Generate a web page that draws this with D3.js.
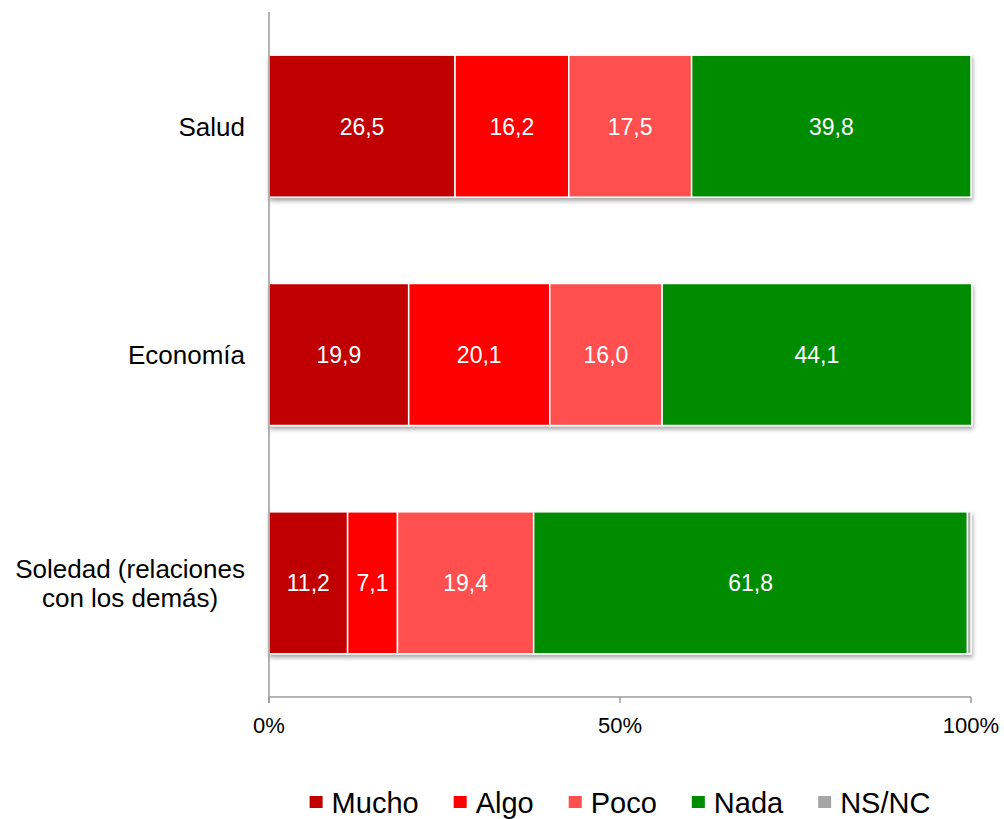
<!DOCTYPE html>
<html>
<head>
<meta charset="utf-8">
<script src="https://cdn.jsdelivr.net/npm/d3@7"></script>
<style>
  html, body { margin: 0; padding: 0; background: #fff; }
  svg { display: block; font-family: "Liberation Sans", Arial, sans-serif; }
</style>
</head>
<body>
<svg id="chart" width="1004" height="819"></svg>
<script>
const categories = ["Salud", "Economía", "Soledad (relaciones\ncon los demás)"];
const seriesNames = ["Mucho", "Algo", "Poco", "Nada", "NS/NC"];
const mucho = [26.5, 19.9, 11.2];
const algo  = [16.2, 20.1, 7.1];
const poco  = [17.5, 16.0, 19.4];
const nada  = [39.8, 44.1, 61.8];
const nsnc  = [0.0, 0.0, 0.5];
const colors = ["#C00000", "#FF0000", "#FF5050", "#008C00", "#A6A6A6"];
const xTicks = [0, 50, 100];
const xTickLabels = ["0%", "50%", "100%"];

const seriesValues = [mucho, algo, poco, nada, nsnc];
const rows = categories.map((c, i) => {
  const r = { cat: c };
  seriesNames.forEach((s, j) => r[s] = seriesValues[j][i]);
  return r;
});

const svg = d3.select("#chart");
const x = d3.scaleLinear().domain([0, 100]).range([269, 971]);
const y = d3.scaleBand().domain(categories).range([12, 697]).paddingInner(0.378).paddingOuter(0.189);
const color = d3.scaleOrdinal().domain(seriesNames).range(colors);

const defs = svg.append("defs");
const f = defs.append("filter").attr("id", "shadow").attr("x", "-5%").attr("y", "-10%").attr("width", "110%").attr("height", "125%");
f.append("feDropShadow").attr("dx", 1).attr("dy", 3).attr("stdDeviation", 2)
  .attr("flood-color", "#000").attr("flood-opacity", 0.35);

const stack = d3.stack().keys(seriesNames)(rows);

const groups = svg.append("g").selectAll("g.row")
  .data(rows).join("g").attr("class", "row").attr("filter", "url(#shadow)");

groups.each(function(d, i) {
  const g = d3.select(this);
  stack.forEach(layer => {
    const seg = layer[i];
    if (seg[1] - seg[0] <= 0) return;
    g.append("rect")
      .attr("x", x(seg[0]))
      .attr("y", y(d.cat))
      .attr("width", x(seg[1]) - x(seg[0]))
      .attr("height", y.bandwidth())
      .attr("fill", color(layer.key))
      .attr("stroke", "#fff")
      .attr("stroke-width", 1.5);
  });
});

const labels = svg.append("g");
stack.forEach(layer => {
  if (layer.key === "NS/NC") return;
  layer.forEach((seg, i) => {
    const v = seg[1] - seg[0];
    if (v <= 0) return;
    labels.append("text")
      .attr("x", x((seg[0] + seg[1]) / 2))
      .attr("y", y(categories[i]) + y.bandwidth() / 2 + 8.5)
      .attr("text-anchor", "middle")
      .attr("fill", "#fff")
      .attr("font-size", 23)
      .text(d3.format(".1f")(v).replace(".", ","));
  });
});

const axisColor = "#9A9A9A";
svg.append("line").attr("x1", x(0)).attr("x2", x(0)).attr("y1", 12).attr("y2", 703)
  .attr("stroke", axisColor).attr("stroke-width", 1.5);
svg.append("line").attr("x1", x(0)).attr("x2", x(100)).attr("y1", 697).attr("y2", 697)
  .attr("stroke", axisColor).attr("stroke-width", 1.5);
const xAxis = svg.append("g");
xTicks.forEach((t, i) => {
  xAxis.append("line").attr("x1", x(t)).attr("x2", x(t)).attr("y1", 697).attr("y2", 703)
    .attr("stroke", axisColor).attr("stroke-width", 1.5);
  xAxis.append("text").attr("x", x(t)).attr("y", 733).attr("text-anchor", "middle")
    .attr("font-size", 22).attr("fill", "#000").text(xTickLabels[i]);
});

const catG = svg.append("g");
categories.forEach(c => {
  const lines = c.split("\n");
  const cy = y(c) + y.bandwidth() / 2;
  const lh = 29;
  const texts = lines.map((ln, k) => catG.append("text")
    .attr("y", cy + 9.5 + (k - (lines.length - 1) / 2) * lh)
    .attr("font-size", 26).attr("fill", "#000").text(ln));
  const widths = texts.map(t => t.node().getComputedTextLength());
  const maxW = d3.max(widths);
  const centerX = 245 - maxW / 2;
  texts.forEach(t => t.attr("x", centerX).attr("text-anchor", "middle"));
});

const leg = svg.append("g");
const items = seriesNames.map(s => {
  const g = leg.append("g");
  g.append("rect").attr("x", 0).attr("y", 796).attr("width", 13).attr("height", 12).attr("fill", color(s));
  const t = g.append("text").attr("x", 22).attr("y", 813).attr("font-size", 29).attr("fill", "#000").text(s);
  return { g, w: 22 + t.node().getComputedTextLength() };
});
const gap = 35;
const total = d3.sum(items, d => d.w) + gap * (items.length - 1);
let cx = 620 - total / 2;
items.forEach(it => { it.g.attr("transform", `translate(${cx},0)`); cx += it.w + gap; });
</script>
</body>
</html>
